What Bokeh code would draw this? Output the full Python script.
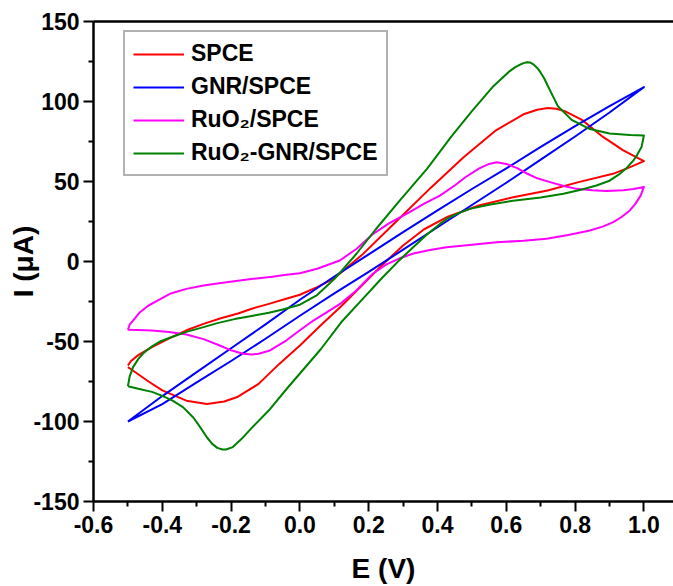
import math
from bokeh.plotting import figure
from bokeh.models import Range1d, FixedTicker, LinearAxis, Legend, LegendItem
from bokeh.embed import file_html
from bokeh.resources import INLINE

# ---------------- data ----------------
x_ticks = [-0.6, -0.4, -0.2, 0.0, 0.2, 0.4, 0.6, 0.8, 1.0]
x_tick_labels = ["-0.6", "-0.4", "-0.2", "0.0", "0.2", "0.4", "0.6", "0.8", "1.0"]
x_minor = [-0.5, -0.3, -0.1, 0.1, 0.3, 0.5, 0.7, 0.9]
y_ticks = [-150, -100, -50, 0, 50, 100, 150]
y_tick_labels = ["-150", "-100", "-50", "0", "50", "100", "150"]
y_minor = [-125, -75, -25, 25, 75, 125]

x_title = "E (V)"
y_title = "I (\u03bcA)"
series_names = ["SPCE", "GNR/SPCE", "RuO\u2082/SPCE", "RuO\u2082-GNR/SPCE"]

# SPCE (red)
spce_fwd_v = [-0.50, -0.49, -0.47, -0.43, -0.38, -0.33, -0.28, -0.23, -0.18, -0.14, -0.09, -0.04, 0.00,
              0.05, 0.10, 0.18, 0.28, 0.38, 0.475, 0.57, 0.65, 0.69, 0.72, 0.745, 0.77, 0.82, 0.88,
              0.94, 1.00]
spce_fwd_i = [-65, -62, -58.5, -53.5, -48, -43, -39, -35.5, -32.5, -29.5, -26.5, -23.3, -20.8,
              -16, -10.5, 4, 25, 46, 65, 82, 92, 94.8, 96, 95.5, 94, 88.5, 78,
              69.5, 62.7]
spce_rev_v = [1.00, 0.96, 0.91, 0.81, 0.72, 0.62, 0.52, 0.43, 0.36, 0.30, 0.24, 0.18, 0.12, 0.06, 0.00,
              -0.06, -0.12, -0.18, -0.22, -0.27, -0.33, -0.40, -0.44, -0.47, -0.49, -0.50]
spce_rev_i = [62.7, 59, 54.8, 49.6, 44.4, 40.2, 35, 28, 20, 10, -2, -15, -28, -40, -52.5,
              -64, -76.5, -84.5, -87.5, -89, -87, -80.5, -75, -70.5, -67.5, -66]

# GNR/SPCE (blue)
gnr_fwd_v = [-0.5, -0.4, -0.3, -0.2, -0.1, 0.0, 0.1, 0.2, 0.3, 0.4, 0.5, 0.6, 0.7, 0.8, 0.9, 1.0]
gnr_fwd_i = [-100, -84.1, -69.1, -54.2, -39.3, -23.9, -9.4, 4.5, 18.4, 32, 45.3, 58.2, 71.7, 84.6, 97.1, 109]
gnr_rev_v = [1.0, 0.9, 0.8, 0.7, 0.6, 0.5, 0.4, 0.3, 0.2, 0.1, 0.0, -0.1, -0.2, -0.3, -0.4, -0.5]
gnr_rev_i = [109, 93.1, 78.1, 63.7, 49.2, 35.3, 21.4, 7.4, -6.5, -19.9, -33.9, -48.3, -62.2, -75.6, -89.1, -100]

# RuO2/SPCE (magenta)
ruo2_fwd_v = [-0.50, -0.495, -0.485, -0.465, -0.44, -0.41, -0.378, -0.33, -0.28, -0.23, -0.18, -0.136,
              -0.08, -0.04, 0.00, 0.05, 0.116, 0.165, 0.213, 0.26, 0.31, 0.36, 0.407, 0.45, 0.48, 0.52,
              0.55, 0.572, 0.60, 0.63, 0.66, 0.69, 0.727, 0.77, 0.804, 0.85, 0.891, 0.94, 0.97, 1.00]
ruo2_fwd_i = [-42.7, -39.5, -36.9, -31.7, -27.5, -24, -20.2, -17.1, -15, -13.5, -12, -10.8,
              -9.5, -8.3, -7.3, -4.5, 0.6, 8, 17.3, 24, 29.8, 36, 41.2, 47.5, 52.5, 58,
              61, 62, 61, 58.5, 55, 52, 49.6, 47, 45.4, 44.5, 44, 44.5, 45.3, 46.5]
ruo2_rev_v = [1.00, 0.99, 0.975, 0.959, 0.935, 0.911, 0.88, 0.843, 0.78, 0.717, 0.65, 0.572, 0.50,
              0.426, 0.378, 0.33, 0.29, 0.25, 0.21, 0.165, 0.12, 0.08, 0.039, 0.00, -0.04, -0.087,
              -0.12, -0.14, -0.165, -0.20, -0.233, -0.28, -0.33, -0.38, -0.43, -0.47, -0.50]
ruo2_rev_i = [46.5, 41, 36, 31.9, 27.8, 24.6, 21.8, 19.4, 16.5, 14.2, 13, 12, 10.5,
              8.9, 7.2, 5, 2, -2, -8, -18, -26, -31.5, -36.9, -43, -49.4, -55.6,
              -57.7, -58.1, -57.7, -55.5, -52.5, -48.5, -45.6, -44, -43.1, -42.8, -42.7]

# RuO2-GNR/SPCE (green)
ruo2gnr_fwd_v = [-0.50, -0.495, -0.485, -0.47, -0.456, -0.43, -0.407, -0.37, -0.33, -0.28, -0.24, -0.19,
                 -0.14, -0.09, -0.05, 0.00, 0.05, 0.10, 0.165, 0.22, 0.29, 0.37, 0.44, 0.50, 0.56,
                 0.61, 0.625, 0.64, 0.65, 0.66, 0.67, 0.68, 0.69, 0.70, 0.71, 0.72, 0.735, 0.75, 0.79,
                 0.84, 0.90, 0.96, 1.00]
ruo2gnr_fwd_i = [-78, -72, -66, -61, -57.5, -53, -50, -47, -44, -41, -38.5, -36,
                 -34, -32, -30, -27, -21, -11, 5, 20, 38, 58, 78, 94, 109,
                 119, 121.3, 123, 124, 124.5, 124.3, 123, 121, 118, 114.5, 110, 103.5, 97, 88.5,
                 83, 80, 79, 78.75]
ruo2gnr_rev_v = [1.00, 0.993, 0.98, 0.969, 0.95, 0.93, 0.90, 0.862, 0.82, 0.766, 0.70, 0.62, 0.55,
                 0.494, 0.456, 0.43, 0.407, 0.37, 0.33, 0.29, 0.24, 0.18, 0.12, 0.06, 0.00, -0.04,
                 -0.09, -0.14, -0.17, -0.195, -0.215, -0.225, -0.24, -0.255, -0.27, -0.29, -0.31,
                 -0.34, -0.37, -0.40, -0.43, -0.47, -0.50]
ruo2gnr_rev_i = [78.75, 71.5, 66.5, 63, 58.5, 54.8, 50.5, 47.5, 45, 42.3, 40, 38, 35.5,
                 32.9, 29.8, 27, 23.5, 17, 9, 1, -10, -24, -38, -55, -70, -80,
                 -93, -104, -111, -116, -117.5, -117.5, -116.5, -114, -110, -103.5, -97.5,
                 -91, -87, -84, -81.5, -79.5, -78]

colors = ["#FF0000", "#0000FF", "#FF00FF", "#008000"]

# ---------------- figure ----------------
FONT = "Liberation Sans"

p = figure(width=673, height=586, output_backend="svg", toolbar_location=None,
           x_range=Range1d(-0.6, 1.086), y_range=Range1d(-150, 150),
           min_border_left=93, min_border_right=0, min_border_top=21, min_border_bottom=85)
p.grid.visible = False
p.outline_line_color = None
p.background_fill_color = "white"
p.border_fill_color = "white"

xa = p.xaxis[0]
ya = p.yaxis[0]
xa.ticker = FixedTicker(ticks=x_ticks, minor_ticks=x_minor)
xa.major_label_overrides = {t: s for t, s in zip(x_ticks, x_tick_labels)}
ya.ticker = FixedTicker(ticks=y_ticks, minor_ticks=y_minor)
ya.major_label_overrides = {t: s for t, s in zip(y_ticks, y_tick_labels)}
for ax in (xa, ya):
    ax.axis_line_width = 2.5
    ax.axis_line_color = "black"
    ax.major_tick_line_width = 2
    ax.minor_tick_line_width = 2
    ax.major_tick_in = 0
    ax.major_tick_out = 10
    ax.minor_tick_in = 0
    ax.minor_tick_out = 5
    ax.major_label_text_font = FONT
    ax.major_label_text_font_style = "bold"
    ax.major_label_text_font_size = "23px"
    ax.major_label_text_color = "black"
    ax.axis_label_text_font = FONT
    ax.axis_label_text_font_style = "bold"
    ax.axis_label_text_font_size = "28px"
    ax.axis_label_text_color = "black"
xa.major_label_standoff = 4
ya.major_label_standoff = 4
xa.axis_label = x_title
ya.axis_label = y_title
xa.axis_label_standoff = 17
ya.axis_label_standoff = -9

top_axis = LinearAxis(ticker=FixedTicker(ticks=[]), axis_line_width=2.5, axis_line_color="black",
                      major_tick_line_color=None, minor_tick_line_color=None,
                      major_label_text_font_size="0px", major_label_standoff=0)
p.add_layout(top_axis, "above")

all_v = [(spce_fwd_v, spce_rev_v), (gnr_fwd_v, gnr_rev_v), (ruo2_fwd_v, ruo2_rev_v), (ruo2gnr_fwd_v, ruo2gnr_rev_v)]
all_i = [(spce_fwd_i, spce_rev_i), (gnr_fwd_i, gnr_rev_i), (ruo2_fwd_i, ruo2_rev_i), (ruo2gnr_fwd_i, ruo2gnr_rev_i)]

renderers = []
for (fv, rv), (fi, ri), c in zip(all_v, all_i, colors):
    r = p.line(list(fv) + list(rv), list(fi) + list(ri), line_color=c, line_width=2, line_join="round")
    renderers.append(r)

legend = Legend(items=[LegendItem(label=n, renderers=[r]) for n, r in zip(series_names, renderers)],
                location=(30, 325))
legend.label_text_font = FONT
legend.label_text_font_style = "bold"
legend.label_text_font_size = "23px"
legend.label_text_color = "black"
legend.glyph_width = 51
legend.glyph_height = 26
legend.label_height = 26
legend.label_standoff = 7
legend.spacing = 6
legend.padding = 8
legend.margin = 0
legend.border_line_color = "#666666"
legend.border_line_width = 2
legend.background_fill_color = "white"
legend.background_fill_alpha = 1.0
p.add_layout(legend)

open("out.html", "w").write(file_html(p, INLINE))
